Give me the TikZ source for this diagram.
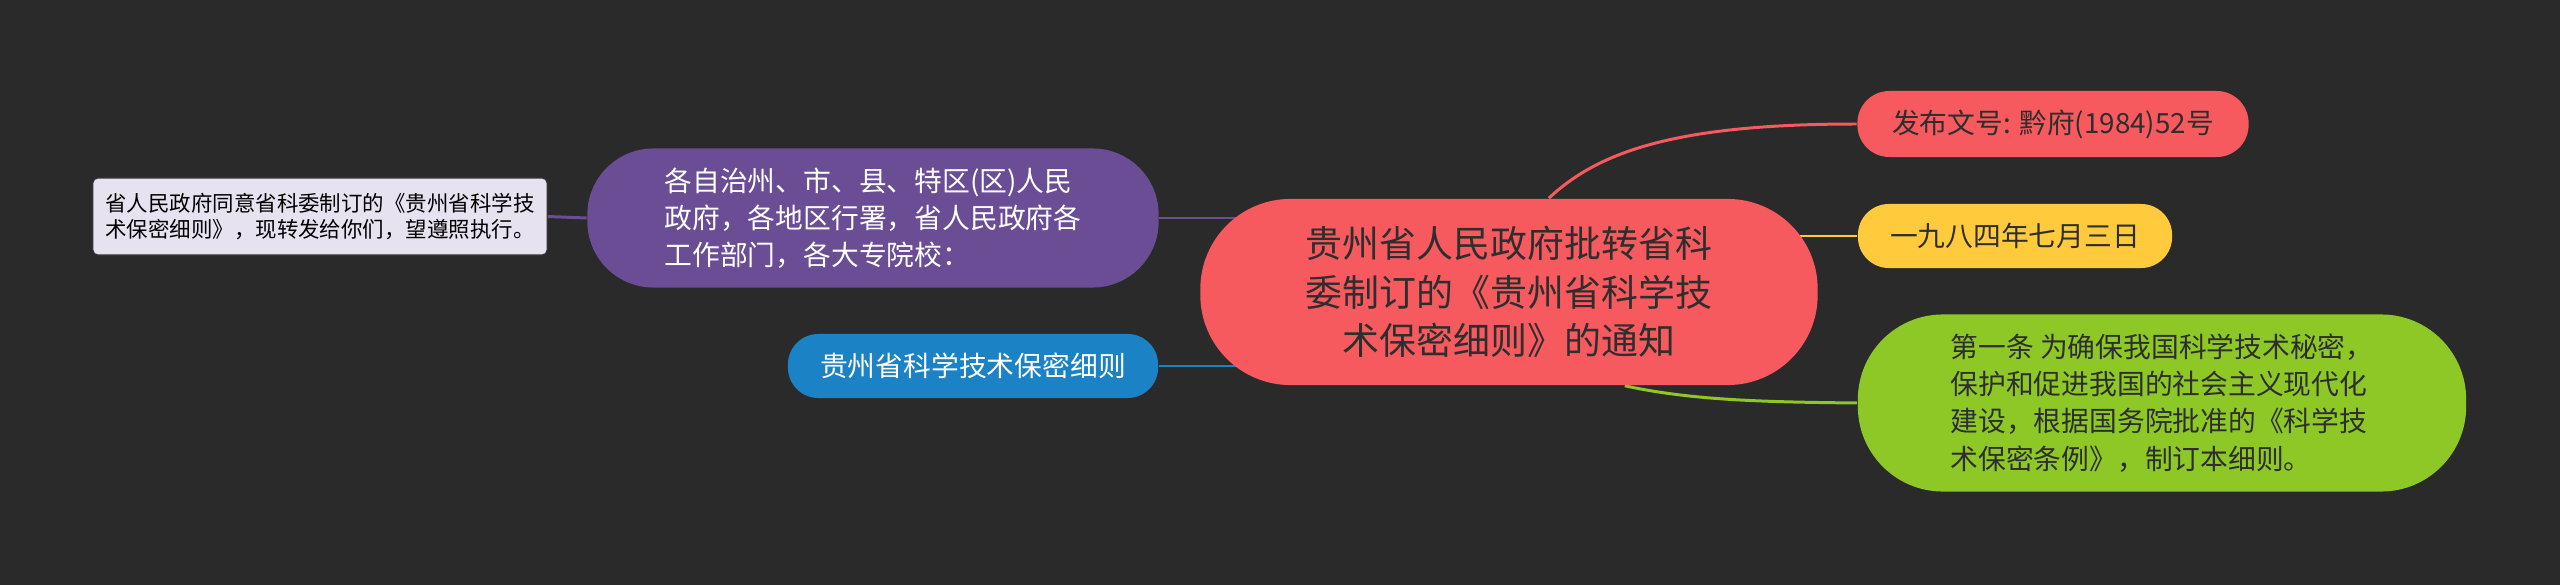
\documentclass[tikz,border=0pt]{standalone}
\usepackage{fontspec}
\usepackage{tikz}
\usetikzlibrary{positioning,calc,backgrounds}
\newfontfamily\cjk{Noto Sans CJK SC}
\definecolor{Board}{HTML}{2A2A2A}
\definecolor{Coral}{HTML}{F65A5E}
\definecolor{Plum}{HTML}{6A4D94}
\definecolor{Mist}{HTML}{E6E2EF}
\definecolor{Sky}{HTML}{1B82C5}
\definecolor{Sun}{HTML}{FFCB3C}
\definecolor{Lime}{HTML}{8DC826}
\definecolor{Ink}{HTML}{2E2E2E}
\tikzset{
  topic/.style={fill=Coral,text=Ink,rounded corners=9mm,inner sep=0pt,align=center,
    font=\cjk\fontsize{10.5}{13.9}\selectfont},
  branch/.style={inner sep=0pt,align=left,font=\cjk\fontsize{7.9}{10.6}\selectfont},
  memo/.style={fill=Mist,draw=Ink,line width=.3pt,rounded corners=.5mm,inner sep=0pt,align=left,
    text=black,font=\cjk\fontsize{6.1}{7.4}\selectfont},
  link/.style={line width=.85pt}
}
\begin{document}
\begin{tikzpicture}[x=.01cm,y=-.01cm]
    \useasboundingbox (0,0) rectangle (2560,585);
    \node[topic,minimum width=6.17cm,minimum height=1.86cm] (main) at (1509,292)
      {贵州省人民政府批转省科\\委制订的《贵州省科学技\\术保密细则》的通知};
    \node[branch,fill=Plum,text=white,rounded corners=6.6mm,minimum width=5.71cm,minimum height=1.39cm] (org) at (873,218)
      {各自治州、市、县、特区(区)人民\\政府，各地区行署，省人民政府各\\工作部门，各大专院校：};
    \node[memo,minimum width=4.54cm,minimum height=.77cm] (note) at (320,216.5)
      {省人民政府同意省科委制订的《贵州省科学技\\术保密细则》，现转发给你们，望遵照执行。};
    \node[branch,fill=Sky,text=white,rounded corners=3.05mm,minimum width=3.70cm,minimum height=.64cm] (rule) at (973,366)
      {贵州省科学技术保密细则};
    \node[branch,fill=Coral,text=Ink,rounded corners=3.2mm,minimum width=3.91cm,minimum height=.66cm] (num) at (2053,124)
      {发布文号: 黔府(1984)52号};
    \node[branch,fill=Sun,text=Ink,rounded corners=3.1mm,minimum width=3.14cm,minimum height=.64cm] (date) at (2015,236)
      {一九八四年七月三日};
    \node[branch,fill=Lime,text=Ink,rounded corners=8.5mm,minimum width=6.08cm,minimum height=1.77cm] (art) at (2162,403)
      {第一条 为确保我国科学技术秘密，\\保护和促进我国的社会主义现代化\\建设，根据国务院批准的《科学技\\术保密条例》，制订本细则。};
    \begin{scope}[on background layer]
      \fill[Board] (0,0) rectangle (2560,585);
      \draw[link,Coral] (main.67) .. controls (1600,150) and (1680,124) .. (num.west);
      \draw[link,Sun] (date.west -| main.center) -- (date.west);
      \draw[link,Lime] (main.-39) .. controls (1690,400) and (1760,402) .. (art.west);
      \draw[link,Plum] (org.east -| main.center) -- (org.east);
      \draw[link,Plum] (org.west) -- (note.east);
      \draw[link,Sky] (rule.east -| main.center) -- (rule.east);
    \end{scope}
  \end{tikzpicture}
\end{document}
